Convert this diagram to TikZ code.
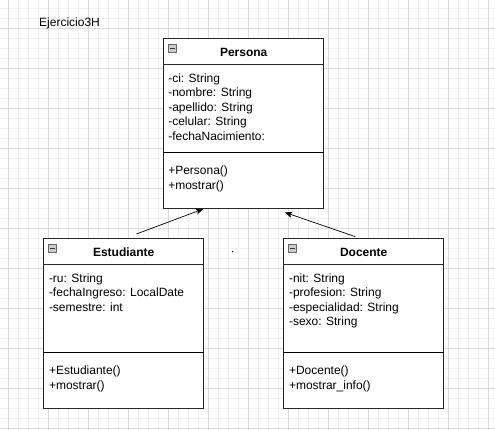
\documentclass[tikz,border=0pt]{standalone}
\usepackage{fontspec}
\setmainfont{Liberation Sans}
\usetikzlibrary{arrows.meta,calc}
\definecolor{gridmajor}{RGB}{218,218,218}
\definecolor{gridminor}{RGB}{240,240,240}
\definecolor{boxline}{RGB}{40,40,40}
\definecolor{icongray}{RGB}{205,205,205}
\definecolor{dotblue}{RGB}{20,20,140}
\begin{document}
\begin{tikzpicture}[x=1pt,y=-1pt,
  classbox/.style={draw=boxline, line width=0.8pt, fill=white, minimum width=160pt, minimum height=170pt, inner sep=0pt, anchor=north west},
  classtitle/.style={font=\fontsize{12}{14.4}\selectfont\bfseries, inner sep=0pt},
  members/.style={font=\fontsize{12}{14.5}\selectfont, align=left, anchor=north west, inner sep=0pt},
  headline/.style={draw=boxline, line width=0.8pt},
  sepline/.style={draw=black, line width=1.1pt},
  inherit/.style={-{Stealth[length=7pt,width=6pt,inset=1.5pt]}, line width=0.7pt, draw=black},
  iconbox/.style={draw=gray!80!black, fill=icongray, minimum size=8pt, inner sep=0pt, line width=0.4pt},
  iconbar/.style={draw=black!80, line width=0.8pt},
  minorgrid/.style={draw=gridminor, line width=0.6pt},
  majorgrid/.style={draw=gridmajor, line width=0.6pt}]
\useasboundingbox (0,0) rectangle (495,430);
\fill[white] (0,0) rectangle (495,430);
% grid
\foreach \k in {0,...,48} {\draw[minorgrid] ({8.3+10*\k},0) -- ({8.3+10*\k},430);}
\foreach \k in {0,...,42} {\draw[minorgrid] (0,{8.3+10*\k}) -- (495,{8.3+10*\k});}
\foreach \k in {0,...,12} {\draw[majorgrid] ({8.3+40*\k},0) -- ({8.3+40*\k},430);}
\foreach \k in {0,...,10} {\draw[majorgrid] (0,{28.3+40*\k}) -- (495,{28.3+40*\k});}

\node[font=\fontsize{12}{14.4}\selectfont, anchor=west, inner sep=0pt] (title) at (39,23) {Ejercicio3H};

% Persona
\node[classbox] (persona) at (163.3,38.3) {};
\draw[headline] ($(persona.north west)+(0,26)$) -- ($(persona.north east)+(0,26)$);
\draw[sepline] ($(persona.north west)+(0,114)$) -- ($(persona.north east)+(0,114)$);
\node[classtitle] (personaT) at ($(persona.north)+(0,13.7)$) {Persona};
\node[iconbox] (personaI) at ($(persona.north west)+(9,10)$) {};
\draw[iconbar] ($(personaI.west)+(1.8,0)$) -- ($(personaI.east)+(-1.8,0)$);
\node[members] (personaA) at ($(persona.north west)+(4.8,35.1)$) {-ci: String\\-nombre: String\\-apellido: String\\-celular: String\\-fechaNacimiento:};
\node[members] (personaM) at ($(persona.north west)+(4.8,127.4)$) {+Persona()\\+mostrar()};

% Estudiante
\node[classbox] (est) at (43.3,238.3) {};
\draw[headline] ($(est.north west)+(0,26)$) -- ($(est.north east)+(0,26)$);
\draw[sepline] ($(est.north west)+(0,114)$) -- ($(est.north east)+(0,114)$);
\node[classtitle] (estT) at ($(est.north)+(0,13.7)$) {Estudiante};
\node[iconbox] (estI) at ($(est.north west)+(9,10)$) {};
\draw[iconbar] ($(estI.west)+(1.8,0)$) -- ($(estI.east)+(-1.8,0)$);
\node[members] (estA) at ($(est.north west)+(5.5,35.1)$) {-ru: String\\-fechaIngreso: LocalDate\\-semestre: int};
\node[members] (estM) at ($(est.north west)+(5.5,127.4)$) {+Estudiante()\\+mostrar()};

% Docente
\node[classbox] (doc) at (283.3,238.3) {};
\draw[headline] ($(doc.north west)+(0,26)$) -- ($(doc.north east)+(0,26)$);
\draw[sepline] ($(doc.north west)+(0,114)$) -- ($(doc.north east)+(0,114)$);
\node[classtitle] (docT) at ($(doc.north)+(0,13.7)$) {Docente};
\node[iconbox] (docI) at ($(doc.north west)+(9,10)$) {};
\draw[iconbar] ($(docI.west)+(1.8,0)$) -- ($(docI.east)+(-1.8,0)$);
\node[members] (docA) at ($(doc.north west)+(5.5,35.1)$) {-nit: String\\-profesion: String\\-especialidad: String\\-sexo: String};
\node[members] (docM) at ($(doc.north west)+(5.5,127.4)$) {+Docente()\\+mostrar\_info()};

% connectors
\coordinate (estFrom) at ($(est.north)+(12.7,-4.3)$);
\coordinate (estTo) at ($(persona.south west)+(39.7,0)$);
\coordinate (docFrom) at ($(doc.north)+(-8.3,-1.6)$);
\coordinate (docTo) at ($(persona.south east)+(-39,3.4)$);
\draw[inherit] (estFrom) -- (estTo);
\draw[inherit] (docFrom) -- (docTo);

% stray dot
\fill[dotblue] (232.6,251.6) circle (0.8);
\end{tikzpicture}
\end{document}
